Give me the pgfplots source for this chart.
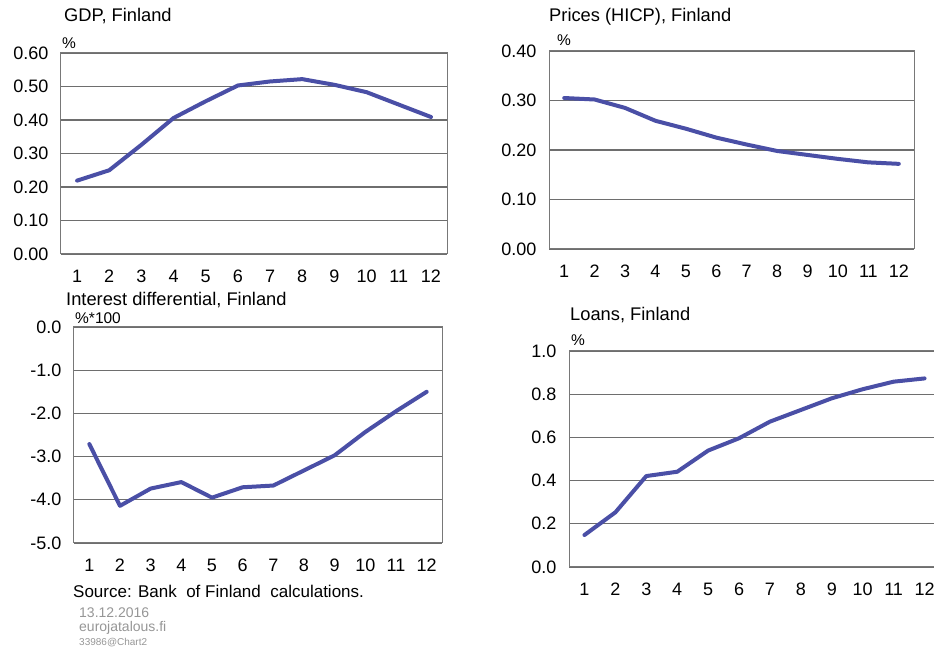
\documentclass[border=0pt]{standalone}
\usepackage{pgfplots}
\pgfplotsset{compat=1.18}
\usepackage{fontspec}
\setmainfont{Liberation Sans}
\definecolor{linec}{RGB}{74,79,166}
\definecolor{gridc}{RGB}{110,110,110}
\definecolor{boxc}{RGB}{120,120,120}
\definecolor{footc}{RGB}{150,150,150}
\pgfplotsset{
  panel/.style={
    scale only axis,
    anchor=south west,
    xmin=0.5, xmax=12.5,
    xtick={1,...,12},
    ymajorgrids,
    major grid style={gridc, line width=1.1pt},
    axis line style={boxc, line width=1pt},
    major tick length=0pt,
    tick style={draw=none},
    ticklabel style={font=\fontsize{18}{20}\selectfont, text=black},
    /pgf/number format/assume math mode=true,
    xticklabel style={text height=13pt, text depth=0pt, yshift=-12pt},
    yticklabel style={xshift=-9pt},
    clip=false,
  },
  dataline/.style={linec, line width=4pt, line join=round, line cap=round, no marks},
}
\begin{document}
\begin{tikzpicture}[x=1pt,y=1pt]
\useasboundingbox (0pt,0pt) rectangle (934pt,650pt);
% Panel 1 GDP
\begin{axis}[panel, at={(61pt,396pt)}, width=386pt, height=201pt,
  ymin=0, ymax=0.6, ytick={0,0.1,...,0.6},
  yticklabel style={/pgf/number format/.cd, fixed, fixed zerofill, precision=2}]
\addplot[dataline] coordinates {(1,0.219)(2,0.250)(3,0.326)(4,0.406)(5,0.456)(6,0.503)(7,0.515)(8,0.522)(9,0.505)(10,0.483)(11,0.446)(12,0.409)};
\end{axis}
% Panel 2 Prices
\begin{axis}[panel, at={(549pt,401pt)}, width=365pt, height=198pt,
  ymin=0, ymax=0.4, ytick={0,0.1,...,0.4},
  yticklabel style={/pgf/number format/.cd, fixed, fixed zerofill, precision=2}]
\addplot[dataline] coordinates {(1,0.305)(2,0.302)(3,0.285)(4,0.259)(5,0.243)(6,0.225)(7,0.211)(8,0.198)(9,0.190)(10,0.182)(11,0.175)(12,0.172)};
\end{axis}
% Panel 3 Interest differential
\begin{axis}[panel, at={(74pt,107pt)}, width=368pt, height=216pt,
  ymin=-5, ymax=0, ytick={-5,-4,...,0},
  yticklabel style={/pgf/number format/.cd, fixed, fixed zerofill, precision=1}]
\addplot[dataline] coordinates {(1,-2.71)(2,-4.14)(3,-3.74)(4,-3.59)(5,-3.95)(6,-3.71)(7,-3.67)(8,-3.32)(9,-2.97)(10,-2.43)(11,-1.95)(12,-1.50)};
\end{axis}
% Panel 4 Loans
\begin{axis}[panel, at={(569pt,83pt)}, width=371pt, height=216pt,
  ymin=0, ymax=1, ytick={0,0.2,...,1},
  yticklabel style={/pgf/number format/.cd, fixed, fixed zerofill, precision=1}]
\addplot[dataline] coordinates {(1,0.148)(2,0.253)(3,0.421)(4,0.441)(5,0.539)(6,0.596)(7,0.673)(8,0.727)(9,0.781)(10,0.823)(11,0.858)(12,0.873)};
\end{axis}
% Titles and units
\tikzset{lab/.style={anchor=west, inner sep=0pt, font=\fontsize{18.3}{20}\selectfont}}
\tikzset{unit/.style={anchor=west, inner sep=0pt, font=\fontsize{15.5}{17}\selectfont}}
\node[lab] at (64pt,634pt) {GDP, Finland};
\node[unit] at (62pt,607pt) {\%};
\node[lab] at (549pt,633pt) {Prices (HICP), Finland};
\node[unit] at (557pt,610pt) {\%};
\node[lab] at (66pt,350pt) {Interest differential, Finland};
\node[unit] at (75pt,332pt) {\%*100};
\node[lab] at (570pt,335pt) {Loans, Finland};
\node[unit] at (571pt,310pt) {\%};
\node[anchor=west, inner sep=0pt, font=\fontsize{17}{19}\selectfont] at (73pt,59pt) {Source: Bank\ \ of Finland\ \ calculations.};
\node[anchor=west, inner sep=0pt, font=\fontsize{14}{15}\selectfont, text=footc] at (79pt,37pt) {13.12.2016};
\node[anchor=west, inner sep=0pt, font=\fontsize{14}{15}\selectfont, text=footc] at (79pt,22pt) {eurojatalous.fi};
\node[anchor=west, inner sep=0pt, font=\fontsize{10}{11}\selectfont, text=footc] at (79pt,7pt) {33986@Chart2};
\end{tikzpicture}
\end{document}
